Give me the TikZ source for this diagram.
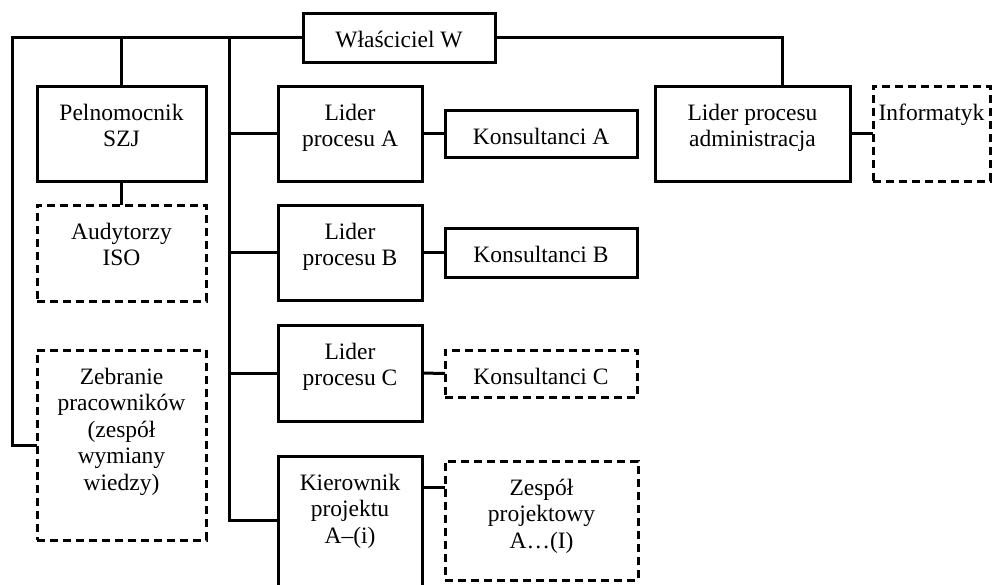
\documentclass[tikz,border=0pt]{standalone}
\usepackage{fontspec}
\setmainfont{Liberation Serif}

% box contents: width, height, text; first baseline 34pt below the top edge
\newcommand{\cellbox}[3]{\parbox[c][#2][t]{#1}{\centering\rule{0pt}{34pt}#3\par}}

\begin{document}
\begin{tikzpicture}[x=1pt,y=-1pt,
  every node/.style={font=\fontsize{23.5}{26.5}\selectfont},
  unit/.style={draw, line width=3pt, inner sep=0pt, outer sep=0pt, anchor=north west},
  dunit/.style={unit, dash pattern=on 8pt off 5pt},
  link/.style={line width=3pt}]
\useasboundingbox (0,0) rectangle (992,584);
\clip (0,0) rectangle (992,584);

% top row
\node[unit]  (W)    at (303,13)  {\cellbox{192pt}{49pt}{Właściciel W}};
\node[unit]  (Adm)  at (655,86)  {\cellbox{195pt}{95pt}{Lider procesu\\administracja}};
\node[dunit] (Inf)  at (873,86)  {\cellbox{117pt}{95pt}{Informatyk}};

% quality column
\node[unit]  (Pel)  at (37,86)   {\cellbox{169pt}{95pt}{Pelnomocnik\\SZJ}};
\node[dunit] (Aud)  at (37,205)  {\cellbox{169pt}{96pt}{Audytorzy\\ISO}};
\node[dunit] (Zeb)  at (37,350)  {\cellbox{169pt}{190pt}{Zebranie\\pracowników\\(zespół\\wymiany\\wiedzy)}};

% process leaders
\node[unit]  (LA)   at (278,86)  {\cellbox{144pt}{95pt}{Lider\\procesu A}};
\node[unit]  (LB)   at (278,205) {\cellbox{144pt}{95pt}{Lider\\procesu B}};
\node[unit]  (LC)   at (278,325) {\cellbox{144pt}{96pt}{Lider\\procesu C}};
\node[unit]  (Kier) at (278,456) {\cellbox{144pt}{144pt}{Kierownik\\projektu\\A–(i)}};

% consultants and project team
\node[unit]  (KA)   at (445,110) {\cellbox{192pt}{47pt}{Konsultanci A}};
\node[unit]  (KB)   at (445,228) {\cellbox{192pt}{49pt}{Konsultanci B}};
\node[dunit] (KC)   at (445,350) {\cellbox{192pt}{47pt}{Konsultanci C}};
\node[dunit] (Zesp) at (445,461) {\cellbox{193pt}{119pt}{Zespół\\projektowy\\A…(I)}};

% bus lines
\coordinate (busL)  at (12,37.5);
\coordinate (spine) at (229,37.5);

\draw[link] (W.west) -- (busL) |- (Zeb.west);
\draw[link] (Pel.north) -- (Pel.north |- W.west);
\draw[link] (Pel.south) -- (Aud.north);
\draw[link] (spine) |- ([yshift=8pt]Kier.west);
\draw[link] (LA.west) -- (LA.west -| spine);
\draw[link] (LB.west) -- (LB.west -| spine);
\draw[link] (LC.west) -- (LC.west -| spine);
\draw[link] (LA.east) -- (KA.west);
\draw[link] (LB.east) -- (KB.west);
\draw[link] (LC.east) -- (KC.west);
\draw[link] ([yshift=41pt]Kier.east) -- ([yshift=41pt]Kier.east -| Zesp.west);
\draw[link] (W.east) -| ([xshift=29.5pt]Adm.north);
\draw[link] (Adm.east) -- (Inf.west);
\end{tikzpicture}
\end{document}
